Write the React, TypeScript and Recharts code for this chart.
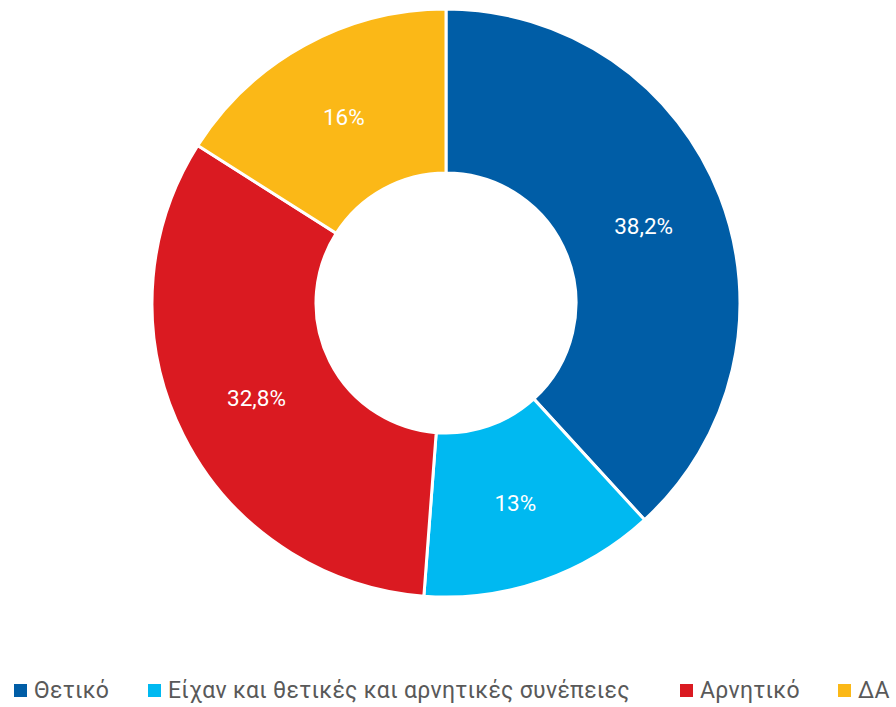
import { PieChart, Pie, Cell, Legend } from "recharts";

const categories = [
  "Θετικό",
  "Είχαν και θετικές και αρνητικές συνέπειες",
  "Αρνητικό",
  "ΔΑ",
];
const shares = [38.2, 13, 32.8, 16];
const labels = ["38,2%", "13%", "32,8%", "16%"];
const colors = ["#005DA6", "#00B9F1", "#DA1A21", "#FBB817"];

const data = categories.map((name, i) => ({ name, value: shares[i], label: labels[i] }));

const RAD = Math.PI / 180;

function SliceLabel(props: any) {
  const { cx, cy, midAngle, innerRadius, outerRadius, index } = props;
  const r = (innerRadius + outerRadius) / 2;
  const x = cx + r * Math.cos(-midAngle * RAD);
  const y = cy + r * Math.sin(-midAngle * RAD);
  return (
    <text
      x={x}
      y={y}
      fill="#fff"
      fontSize={22.5}
      textAnchor="middle"
      dominantBaseline="central"
      fontFamily="Roboto, sans-serif"
    >
      {data[index].label}
    </text>
  );
}

// legend item left edges
const legendLeft = [14, 148, 680, 838];

function LegendRow() {
  return (
    <div style={{ position: "relative", width: 896, height: 30, fontFamily: "Roboto, sans-serif", overflow: "hidden" }}>
      {categories.map((c, i) => (
        <div
          key={c}
          style={{ position: "absolute", left: legendLeft[i], top: 0, height: 30, display: "flex", alignItems: "center" }}
        >
          <span style={{ width: 13, height: 13, background: colors[i], display: "inline-block", marginRight: 7 }} />
          <span style={{ fontSize: 23, letterSpacing: 0.3, color: "#595959", whiteSpace: "nowrap" }}>{c}</span>
        </div>
      ))}
    </div>
  );
}

export default function App() {
  return (
    <div style={{ width: 896, height: 707, background: "#fff", overflow: "hidden" }}>
      <style>{`body{margin:0}`}</style>
      <PieChart width={896} height={707} margin={{ top: 0, right: 0, bottom: 0, left: 0 }}>
        <Pie
          data={data}
          dataKey="value"
          nameKey="name"
          cx={446}
          cy={303}
          innerRadius={130}
          outerRadius={294}
          startAngle={90}
          endAngle={-270}
          stroke="#fff"
          strokeWidth={3}
          label={SliceLabel}
          labelLine={false}
          isAnimationActive={false}
        >
          {data.map((d, i) => (
            <Cell key={d.name} fill={colors[i]} />
          ))}
        </Pie>
        <Legend
          verticalAlign="bottom"
          align="left"
          wrapperStyle={{ bottom: 2, left: 0 }}
          content={() => <LegendRow />}
        />
      </PieChart>
    </div>
  );
}
